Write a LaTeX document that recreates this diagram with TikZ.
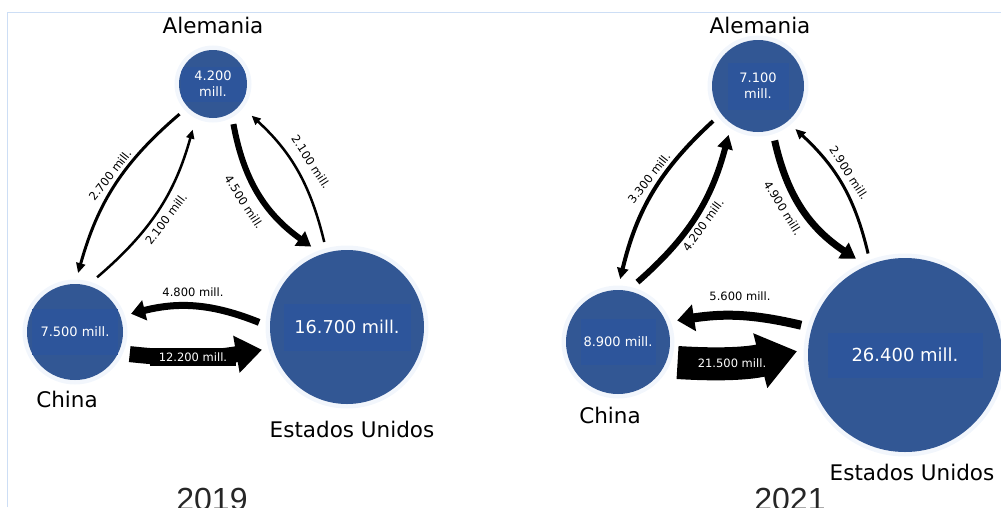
\documentclass[tikz,border=0pt]{standalone}
\usepackage{fontspec}
\setmainfont{DejaVu Sans}
\newfontfamily\yearfont{Liberation Sans}
\usetikzlibrary{arrows.meta}
\definecolor{cblue}{RGB}{50,87,148}
\definecolor{tblue}{RGB}{45,85,155}
\definecolor{halo}{RGB}{242,246,252}
\definecolor{framec}{RGB}{205,222,245}
\begin{document}
\begin{tikzpicture}[x=1pt,y=-1pt,
  bub/.style={circle, fill=cblue, inner sep=0pt, outer sep=11pt, minimum size=#1,
    preaction={draw=halo, line width=9pt}},
  numbox/.style={fill=tblue, text=white, inner sep=0pt, align=center,
    font=\fontsize{13}{16}\selectfont},
  country/.style={anchor=base, font=\fontsize{21.5}{24}\selectfont},
  flowlab/.style={font=\fontsize{11.5}{13}\selectfont},
  flow/.style={draw=black, line width=#1},
  yearlab/.style={anchor=base, text=black!85, font=\yearfont\fontsize{32}{36}\selectfont}
]
\useasboundingbox (0,0) rectangle (1001,507);
\clip (0,0) rectangle (1001,507);
\draw[framec, line width=1pt] (7,507) -- (7,12) -- (1001,12);

% ---------- 2019 ----------
\node[bub=68pt] (A1) at (213,84) {};
\node[bub=96pt] (C1) at (75,332) {};
\node[bub=154pt] (U1) at (347,327) {};
\begin{scope}
  \clip (A1.center) circle[radius=34pt];
  \node[numbox, minimum width=65pt, minimum height=35pt] (tA1) at (A1) {4.200\\mill.};
\end{scope}
\node[numbox, minimum width=86pt, minimum height=46pt] (tC1) at (C1) {7.500 mill.};
\node[numbox, minimum width=127pt, minimum height=47pt, font=\fontsize{17.7}{20}\selectfont] (tU1) at (U1) {16.700 mill.};

\node[country] (nA1) at (213,33) {Alemania};
\node[country] (nC1) at (67,407) {China};
\node[country] (nU1) at (352,437) {Estados Unidos};

\draw[flow=3pt, -{Triangle[width=9pt,length=10pt]}] (A1.222) to[bend right=17] (C1.87);
\draw[flow=2.5pt, shorten >=5pt, -{Triangle[width=8pt,length=9pt]}] (C1.68) to[bend right=17] (A1.245);
\draw[flow=6pt, -{Triangle[width=17pt,length=14pt]}] (A1.297) to[bend right=22] (U1.114);
\draw[flow=2.5pt, shorten >=5pt, -{Triangle[width=8pt,length=9pt]}] (U1.105) to[bend right=17] (A1.321);
\draw[flow=7pt, -{Triangle[width=20pt,length=14pt]}] (U1.177) to[bend right=18] (C1.18);
\draw[flow=16pt, -{Triangle[width=36pt,length=26pt]}] (C1.338) to[bend right=8] (U1.195);

\node[flowlab, rotate=52] (l1) at (110,175) {2.700 mill.};
\node[flowlab, rotate=53] (l2) at (166,219) {2.100 mill.};
\node[flowlab, rotate=-57] (l3) at (244,202) {4.500 mill.};
\node[flowlab, rotate=-57] (l4) at (311,162) {2.100 mill.};
\node[flowlab] (l5) at (193,292) {4.800 mill.};
\node[flowlab, fill=black, text=white, inner sep=0pt, minimum width=86pt, minimum height=18pt] (l6) at (193,357) {12.200 mill.};

\node[yearlab] (y1) at (212,510) {2019};

% ---------- 2021 ----------
\node[bub=92pt] (A2) at (758,86) {};
\node[bub=104pt] (C2) at (618,342) {};
\node[bub=194pt] (U2) at (905,355) {};
\node[numbox, minimum width=61pt, minimum height=47pt] (tA2) at (A2) {7.100\\mill.};
\node[numbox, minimum width=75pt, minimum height=46pt] (tC2) at (C2) {8.900 mill.};
\node[numbox, minimum width=155pt, minimum height=45pt, font=\fontsize{18}{21}\selectfont] (tU2) at (U2) {26.400 mill.};

\node[country] (nA2) at (760,33) {Alemania};
\node[country] (nC2) at (610,423) {China};
\node[country] (nU2) at (912,480) {Estados Unidos};

\draw[flow=4pt, -{Triangle[width=11pt,length=11pt]}] (A2.218) to[bend right=17] (C2.88);
\draw[flow=6pt, -{Triangle[width=15pt,length=14pt]}] (C2.72) to[bend right=17] (A2.239);
\draw[flow=7pt, -{Triangle[width=18pt,length=15pt]}] (A2.287) to[bend right=22] (U2.117);
\draw[flow=3pt, -{Triangle[width=9pt,length=10pt]}] (U2.110) to[bend right=17] (A2.311);
\draw[flow=9pt, -{Triangle[width=26pt,length=17pt]}] (U2.164) to[bend right=11] (C2.20);
\draw[flow=33pt, -{Triangle[width=54pt,length=38pt]}] (C2.341) to[bend right=9] (U2.178);

\node[flowlab, rotate=52] (r1) at (649,178) {3.300 mill.};
\node[flowlab, rotate=54] (r2) at (703,225) {4.200 mill.};
\node[flowlab, rotate=-58] (r3) at (783,208) {4.900 mill.};
\node[flowlab, rotate=-57] (r4) at (849,173) {2.900 mill.};
\node[flowlab] (r5) at (740,296) {5.600 mill.};
\node[flowlab, text=white] (r6) at (732,363) {21.500 mill.};

\node[yearlab] (y2) at (790,510) {2021};
\end{tikzpicture}
\end{document}
